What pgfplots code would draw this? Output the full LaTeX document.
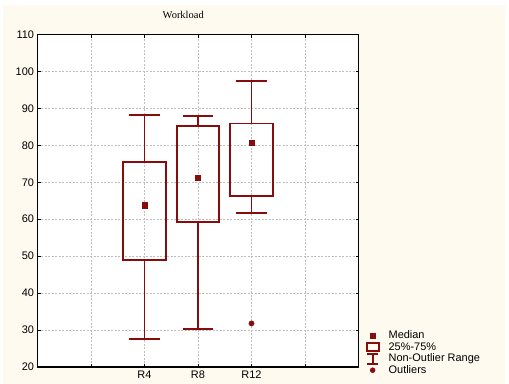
\documentclass[border=0pt]{standalone}
\usepackage{fontspec}
\setmainfont{Liberation Sans}
\newfontfamily\titlefont{Liberation Serif}
\usepackage{pgfplots}
\pgfplotsset{compat=1.18}
\usepgfplotslibrary{statistics}
\definecolor{dred}{RGB}{135,12,12}
\definecolor{cream}{RGB}{254,250,240}
\definecolor{gridgray}{RGB}{190,190,190}

\begin{document}
\begin{tikzpicture}
\path[use as bounding box] (0,0) rectangle (509bp,384bp);
\fill[cream] (3bp,0) rectangle (505bp,379bp);
\begin{axis}[
  at={(37.5bp,17bp)}, anchor=south west,
  scale only axis,
  width=321bp, height=332.5bp,
  axis background/.style={fill=white},
  axis line style={line width=1.3bp},
  xmin=0, xmax=6,
  ymin=20, ymax=110,
  xtick={1,2,3,4,5},
  xticklabels={,R4,R8,R12,},
  ytick={20,30,...,110},
  tick align=inside,
  major tick length=3bp,
  tick style={black, line width=0.8bp},
  xmajorgrids=true, ymajorgrids=true,
  grid style={gridgray, line width=0.6bp, dash pattern=on 2bp off 1.5bp},
  ticklabel style={font=\fontsize{11}{13}\selectfont},
  /pgf/number format/assume math mode=true,
  title={\titlefont Workload},
  title style={at={(0.454,1)}, anchor=base, yshift=10bp,
    font=\fontsize{10.5}{12}\selectfont},
  boxplot/draw direction=y,
  legend style={draw=none, fill=none, at={(1,0)}, anchor=south west,
    xshift=7bp, yshift=-9bp, inner sep=0pt, row sep=0pt,
    font=\fontsize{11}{12}\selectfont,
    nodes={inner sep=0.5bp, text height=8bp, text depth=2.2bp}},
  legend cell align=left,
]

\addlegendimage{legend image code/.code={
  \path[draw=none] (0bp,-5bp) rectangle (22bp,5bp);
  \fill[dred] (4bp,-2.6bp) rectangle (9.5bp,2.6bp);}}
\addlegendentry{Median}
\addlegendimage{legend image code/.code={
  \path[draw=none] (0bp,-5bp) rectangle (22bp,5bp);
  \draw[dred, line width=1.9bp] (0.5bp,-4bp) rectangle (13bp,4.5bp);}}
\addlegendentry{25\%-75\%}
\addlegendimage{legend image code/.code={
  \path[draw=none] (0bp,-5bp) rectangle (22bp,5bp);
  \draw[dred, line width=1.9bp] (1bp,5bp) -- (12bp,5bp)
    (6.5bp,5bp) -- (6.5bp,-5bp) (1bp,-5bp) -- (12bp,-5bp);}}
\addlegendentry{Non-Outlier Range}
\addlegendimage{legend image code/.code={
  \path[draw=none] (0bp,-5bp) rectangle (22bp,5bp);
  \fill[dred] (6.5bp,0bp) circle (2.5bp);}}
\addlegendentry{Outliers}

% R4
\addplot[draw=dred, line width=1.9bp, mark=*,
  mark options={fill=dred, draw=dred, line width=0.5bp}, mark size=2.6bp,
  boxplot/every median/.style={draw=none},
  boxplot prepared={draw position=2, box extend=0.8, whisker extend=0.57,
    lower whisker=27.7, lower quartile=49.0, median=63.8,
    upper quartile=75.6, upper whisker=88.3}]
  coordinates {};
% R8
\addplot[draw=dred, line width=1.9bp, mark=*,
  mark options={fill=dred, draw=dred, line width=0.5bp}, mark size=2.6bp,
  boxplot/every median/.style={draw=none},
  boxplot prepared={draw position=3, box extend=0.8, whisker extend=0.57,
    lower whisker=30.3, lower quartile=59.3, median=71.2,
    upper quartile=85.3, upper whisker=87.9}]
  coordinates {};
% R12
\addplot[draw=dred, line width=1.9bp, mark=*,
  mark options={fill=dred, draw=dred, line width=0.5bp}, mark size=2.6bp,
  boxplot/every median/.style={draw=none},
  boxplot prepared={draw position=4, box extend=0.8, whisker extend=0.57,
    lower whisker=61.6, lower quartile=66.2, median=80.8,
    upper quartile=85.9, upper whisker=97.3}]
  coordinates {(0,31.8)};

% medians
\addplot[only marks, mark=square*, mark size=2.6bp,
  mark options={fill=dred, draw=dred, line width=0.3bp}]
  coordinates {(2,63.8) (3,71.2) (4,80.8)};

\end{axis}
\end{tikzpicture}
\end{document}
